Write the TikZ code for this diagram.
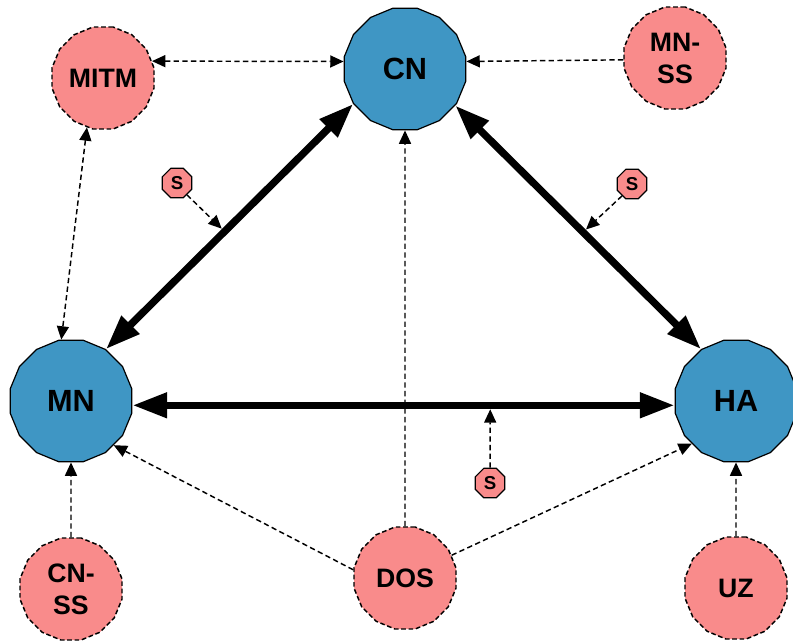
\documentclass[tikz,border=0pt]{standalone}
\usepackage{fontspec}
\setmainfont{Liberation Sans}
\usepackage{tikz}
\usetikzlibrary{shapes.geometric,arrows.meta}
\definecolor{hubblue}{RGB}{63,150,196}
\definecolor{threatpink}{RGB}{249,139,139}

\begin{document}
\begin{tikzpicture}[x=0.75pt,y=-0.75pt,
  >={Triangle[length=10pt,width=9pt]},
  hub/.style={regular polygon, regular polygon sides=16, minimum size=93pt, inner sep=0pt,
    fill=hubblue, draw=black, line width=0.9pt, font=\bfseries\fontsize{23}{27}\selectfont},
  threat/.style={regular polygon, regular polygon sides=16, minimum size=78pt, inner sep=0pt,
    fill=threatpink, draw=black, line width=1.1pt, dash pattern=on 3.5pt off 2pt,
    align=center, font=\bfseries\fontsize{20}{24}\selectfont},
  sbox/.style={regular polygon, regular polygon sides=8, minimum size=24pt, inner sep=0pt,
    fill=threatpink, draw=black, line width=0.9pt, font=\bfseries\fontsize{14}{16}\selectfont},
  bigarrow/.style={line width=5.5pt, {Triangle[length=26pt,width=18pt]}-{Triangle[length=26pt,width=18pt]}},
  atk/.style={line width=1.1pt, dash pattern=on 4pt off 2.5pt}]
\useasboundingbox (0,0) rectangle (793,643);
%
\node[hub] (cn) at (405,69) {CN};
\node[hub] (mn) at (71,401) {MN};
\node[hub] (ha) at (736,401) {HA};
%
\node[threat] (mitm) at (103,78) {MITM};
\node[threat] (mnss) at (675,58) {MN-\\SS};
\node[threat] (cnss) at (71,589) {CN-\\SS};
\node[threat] (dos) at (405,578) {DOS};
\node[threat] (uz) at (736,588) {UZ};
%
\draw[bigarrow] (cn.214) -- coordinate[pos=0.52] (p1) (mn.56);
\draw[bigarrow] (cn.-36) -- coordinate[pos=0.52] (p2) (ha.124);
\draw[bigarrow] (mn.-4) -- coordinate[pos=0.66] (p3) (ha.184);
%
\node[sbox] (s1) at (177,183) {S};
\node[sbox] (s2) at (632,184) {S};
\node[sbox] (s3) at (490,483) {S};
\draw[atk, ->, shorten >=3pt] (s1.-50) -- (p1);
\draw[atk, ->, shorten >=3pt] (s2.-130) -- (p2);
\draw[atk, ->, shorten >=3pt] (s3) -- (p3);
%
\draw[atk, <->] (mitm.19) -- (cn.173);
\draw[atk, <->] (mitm.252) -- (mn.99);
\draw[atk, ->] (mnss.182) -- (cn.7);
\draw[atk, ->] (cnss) -- (mn);
\draw[atk, ->] (uz) -- (ha);
\draw[atk, ->] (dos) -- (cn);
\draw[atk, ->] (dos.171) -- (mn.-46);
\draw[atk, ->] (dos.26) -- (ha.224);
\end{tikzpicture}
\end{document}
